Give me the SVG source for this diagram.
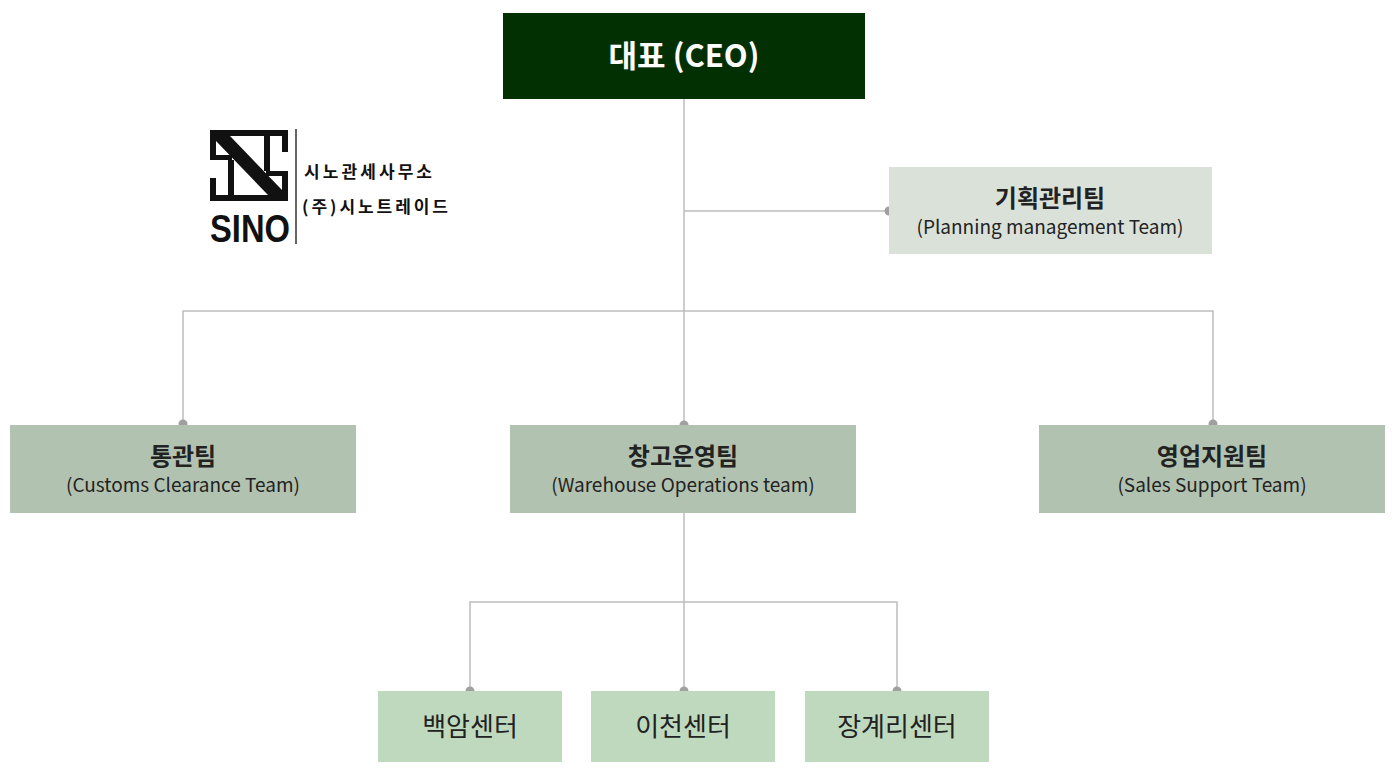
<svg xmlns="http://www.w3.org/2000/svg" width="1400" height="780" viewBox="0 0 1400 780">
<style>
.t{font-family:"Noto Sans CJK KR","Noto Sans",sans-serif;text-anchor:middle;fill:#222}
.b{font-weight:bold;font-size:24px}
.s{font-size:19px}
.c{stroke:#bdbdbd;stroke-width:1.5;fill:none}
.d{fill:#a0a0a0}
.k{fill:#111}
</style>
<rect width="1400" height="780" fill="#fff"/>
<g id="connectors">
<path class="c" d="M684 99V425M684 211H889M183 424V311H1213V424M684 513V691M470 691V602H897V691"/>
<circle class="d" cx="889" cy="211" r="4.5"/><circle class="d" cx="183" cy="424" r="4.5"/><circle class="d" cx="684" cy="425" r="4.5"/><circle class="d" cx="1213" cy="424" r="4.5"/>
<circle class="d" cx="470" cy="691" r="4.5"/><circle class="d" cx="684" cy="691" r="4.5"/><circle class="d" cx="897" cy="691" r="4.5"/>
</g>
<g id="logo">
<rect class="k" x="210" y="130" width="78" height="6"/>
<rect class="k" x="210" y="195" width="78" height="6"/>
<rect class="k" x="210" y="130" width="6" height="26"/>
<rect class="k" x="282" y="175" width="6" height="26"/>
<rect class="k" x="210" y="155" width="22" height="5"/>
<rect class="k" x="266" y="171" width="22" height="5"/>
<rect class="k" x="282" y="130" width="6" height="22"/>
<rect class="k" x="210" y="178" width="6" height="23"/>
<rect class="k" x="228" y="160" width="6" height="36"/>
<rect class="k" x="264" y="135" width="6" height="36"/>
<polygon class="k" points="216,136 230,136 282,190 282,195 268,195 216,141"/>
<text x="250" y="242" font-family="Liberation Sans,sans-serif" font-size="38" font-weight="bold" text-anchor="middle" textLength="80" lengthAdjust="spacingAndGlyphs" fill="#111">SINO</text>
<line x1="296" y1="129" x2="296" y2="244" stroke="#333" stroke-width="1.5"/>
<text x="304" y="178" font-family="Noto Sans CJK KR,sans-serif" font-size="17" font-weight="bold" fill="#111" textLength="128" lengthAdjust="spacing">시노관세사무소</text>
<text x="302" y="213" font-family="Noto Sans CJK KR,sans-serif" font-size="17" font-weight="bold" fill="#111" textLength="146" lengthAdjust="spacing">(주)시노트레이드</text>
</g>
<g id="ceo"><rect x="503" y="13" width="362" height="86" fill="#033003"/><text class="t" x="684" y="67" font-size="31" font-weight="bold" style="fill:#fff">대표 (CEO)</text></g>
<g id="planning"><rect x="889" y="167" width="323" height="87" fill="#dae1d9"/><text class="t b" x="1050" y="207">기획관리팀</text><text class="t s" x="1050" y="234">(Planning management Team)</text></g>
<g id="customs"><rect x="10" y="425" width="346" height="88" fill="#b2c2b0"/><text class="t b" x="183" y="465">통관팀</text><text class="t s" x="183" y="492">(Customs Clearance Team)</text></g>
<g id="warehouse"><rect x="510" y="425" width="346" height="88" fill="#b2c2b0"/><text class="t b" x="683" y="465">창고운영팀</text><text class="t s" x="683" y="492">(Warehouse Operations team)</text></g>
<g id="sales"><rect x="1039" y="425" width="346" height="88" fill="#b2c2b0"/><text class="t b" x="1212" y="465">영업지원팀</text><text class="t s" x="1212" y="492">(Sales Support Team)</text></g>
<g id="baekam"><rect x="378" y="691" width="184" height="71" fill="#bfd9bf"/><text class="t" x="470" y="736" font-size="26">백암센터</text></g>
<g id="icheon"><rect x="591" y="691" width="184" height="71" fill="#bfd9bf"/><text class="t" x="683" y="736" font-size="26">이천센터</text></g>
<g id="janggye"><rect x="805" y="691" width="184" height="71" fill="#bfd9bf"/><text class="t" x="897" y="736" font-size="26">장계리센터</text></g>
</svg>
